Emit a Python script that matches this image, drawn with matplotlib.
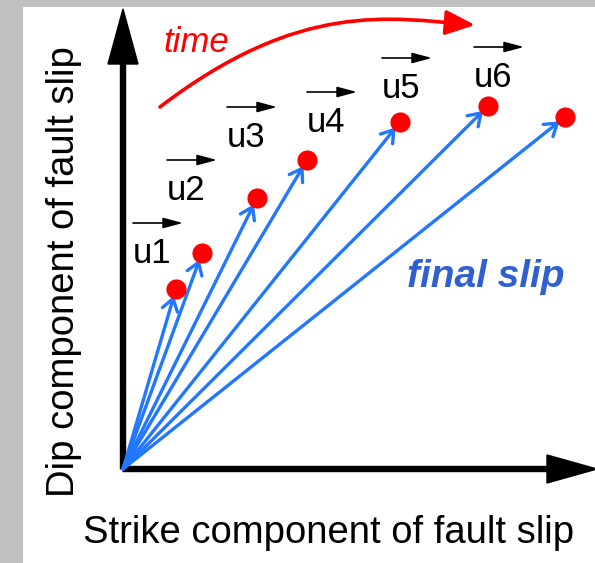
# Slip vectors of a fault growing with time (schematic)
import matplotlib.pyplot as plt
import numpy as np
from matplotlib.patches import FancyArrowPatch
from matplotlib.path import Path

plt.rcParams['font.family'] = ['Liberation Sans', 'DejaVu Sans']

# slip vector end points (strike, dip), one per time step, last one = final slip
strike = [53, 79, 134, 184, 277, 365, 442]
dip = [180, 216, 271, 309, 347, 363, 352]

# labels u1..u6 (left x, baseline y)
labels = ['u1', 'u2', 'u3', 'u4', 'u5', 'u6']
label_x = [10, 44, 104, 184, 259, 351]
label_y = [206, 269, 322, 337, 371, 382]

# "time" arrow path (cubic bezier control points)
time_curve = [(37, 362), (177, 469), (267, 451), (352, 444)]

blue = '#2277ff'

fig = plt.figure(figsize=(5.95, 5.63), dpi=100, facecolor='#c0c0c0')
ax = fig.add_axes([23 / 595, 0, 572 / 595, 556 / 563])
ax.set_facecolor('white')
ax.set_xlim(-100, 472)
ax.set_ylim(-94, 462)
for s in ax.spines.values():
    s.set_visible(False)
ax.set_xticks([])
ax.set_yticks([])

# axes arrows
ax.arrow(0, 0, 0, 460, width=5, head_width=30, head_length=55,
         length_includes_head=True, color='black', zorder=3)
ax.arrow(0, 0, 474, 0, width=5, head_width=28, head_length=50,
         length_includes_head=True, color='black', zorder=3, clip_on=False)

# slip vectors
for sx, dy in zip(strike, dip):
    ax.annotate('', xy=(sx, dy), xytext=(0, 0),
                arrowprops=dict(arrowstyle='->,head_length=0.42,head_width=0.28',
                                color=blue, lw=2.4, shrinkA=0, shrinkB=5,
                                mutation_scale=20))
ax.plot(strike, dip, 'o', color='red', ms=14.5, mec='none', zorder=4)

# u labels with vector overbars
for lab, lx, ly in zip(labels, label_x, label_y):
    ax.text(lx, ly, lab, fontsize=25, ha='left', va='baseline')
    ax.annotate('', xy=(lx + 50, ly + 40), xytext=(lx, ly + 40),
                arrowprops=dict(arrowstyle='-|>,head_length=0.6,head_width=0.16',
                                color='black', lw=1.2, shrinkA=0, shrinkB=0,
                                mutation_scale=20))

# time arrow
p = Path(time_curve, [Path.MOVETO, Path.CURVE4, Path.CURVE4, Path.CURVE4])
ax.add_patch(FancyArrowPatch(path=p, arrowstyle='-|>,head_length=0.9,head_width=0.38',
                             color='red', lw=2.6, mutation_scale=20))
ax.text(40, 417, 'time', color='red', fontsize=25, style='italic', va='baseline')

ax.text(284, 182, 'final slip', color='#2f5fd0', fontsize=28, style='italic',
        weight='bold', va='baseline')

ax.text(-49, 197, 'Dip component of fault slip', fontsize=27.5, rotation=90,
        rotation_mode='anchor', ha='center', va='baseline')
ax.text(-40, -74, 'Strike component of fault slip', fontsize=27.5,
        ha='left', va='baseline')

fig.savefig('out.png', dpi=100)
